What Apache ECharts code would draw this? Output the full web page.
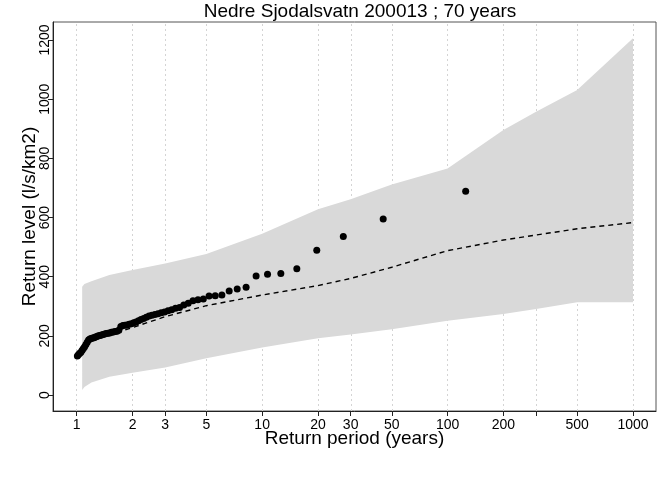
<!DOCTYPE html>
<html>
<head>
<meta charset="utf-8">
<script src="https://cdn.jsdelivr.net/npm/echarts@6/dist/echarts.min.js"></script>
<style>html,body{margin:0;padding:0;background:#fff}#chart{width:672px;height:480px}</style>
</head>
<body>
<div id="chart"></div>
<script>
// Observed return periods (years) and return levels (l/s/km2)
const periods = [125.2, 44.95, 27.39, 19.70, 15.38, 12.61, 10.69, 9.275, 8.192, 7.335,
  6.640, 6.066, 5.583, 5.171, 4.816, 4.506, 4.234, 3.993, 3.778, 3.585,
  3.410, 3.252, 3.108, 2.976, 2.855, 2.743, 2.640, 2.544, 2.455, 2.372,
  2.295, 2.222, 2.154, 2.089, 2.029, 1.972, 1.918, 1.867, 1.818, 1.773,
  1.729, 1.687, 1.648, 1.610, 1.574, 1.539, 1.506, 1.474, 1.444, 1.415,
  1.387, 1.360, 1.334, 1.309, 1.285, 1.262, 1.240, 1.218, 1.197, 1.177,
  1.158, 1.139, 1.121, 1.103, 1.086, 1.070, 1.053, 1.038, 1.023, 1.008];
const levels = [689, 595, 536, 489, 427, 411, 408, 402, 364, 358,
  352, 338, 336, 335, 325, 322, 319, 310, 304, 296,
  293, 288, 285, 281, 278, 275, 272, 270, 267, 263,
  259, 255, 251, 247, 244, 241, 239, 237, 236, 235,
  232, 219, 216, 215, 213, 212, 210, 209, 208, 206,
  205, 203, 201, 200, 198, 196, 194, 193, 191, 189,
  186, 178, 171, 163, 157, 151, 145, 141, 137, 132];

// Fitted return level curve
const fitPeriods = [1.1, 1.2, 1.5, 2, 3, 5, 10, 20, 30, 50, 100, 200, 500, 1000];
const fitLevels  = [165, 188, 205, 228, 265, 302, 338, 370, 394, 432, 488, 524, 562, 583];

// Confidence band
const bandPeriods = [1.07, 1.1, 1.2, 1.5, 2, 3, 5, 10, 20, 30, 50, 100, 200, 300, 500, 1000];
const bandUpper   = [366, 375, 385, 406, 423, 445, 477, 545, 628, 662, 712, 766, 896, 958, 1031, 1206];
const bandLower   = [17, 27, 42, 62, 75, 93, 124, 161, 192, 205, 222, 251, 274, 291, 314, 314];

// Axis ticks
const xTickValues  = [1, 2, 3, 5, 10, 20, 30, 50, 100, 200, 300, 500, 1000];
const xLabelValues = [1, 2, 3, 5, 10, 20, 30, 50, 100, 200, 500, 1000];
const yTickValues  = [0, 200, 400, 600, 800, 1000, 1200];

const lg = v => Math.log10(v);
const pts = periods.map((p, i) => [lg(p), levels[i]]);
const fit = fitPeriods.map((p, i) => [lg(p), fitLevels[i]]);
const band = bandPeriods.map((p, i) => [lg(p), bandLower[i], bandUpper[i]]);

const FONT = 'Liberation Sans';
const chart = echarts.init(document.getElementById('chart'), null, {renderer: 'canvas'});
chart.setOption({
  animation: false,
  backgroundColor: '#fff',
  title: {
    text: 'Nedre Sjodalsvatn 200013 ; 70 years',
    left: 355, top: -3, textAlign: 'center',
    textStyle: {fontFamily: FONT, fontSize: 19, fontWeight: 'normal', color: '#000'}
  },
  grid: {left: 53, right: 16, top: 22, bottom: 69, show: true, borderColor: '#555', borderWidth: 1, backgroundColor: 'transparent'},
  xAxis: {
    type: 'value', min: -0.128, max: 3.124,
    name: 'Return period (years)', nameLocation: 'middle', nameGap: 18, nameMoveOverlap: false,
    nameTextStyle: {fontFamily: FONT, fontSize: 19, color: '#000'},
    axisLine: {show: true, onZero: false, lineStyle: {color: '#222'}},
    axisTick: {show: true, length: 5, customValues: xTickValues.map(lg), lineStyle: {color: '#222'}},
    axisLabel: {customValues: xLabelValues.map(lg), margin: 7, fontFamily: FONT, fontSize: 14, color: '#000',
      formatter: v => String(Math.round(Math.pow(10, v)))},
    splitLine: {show: false}
  },
  yAxis: {
    type: 'value', min: -54, max: 1261,
    name: 'Return level (l/s/km2)', nameLocation: 'middle', nameGap: 14, nameMoveOverlap: false,
    nameTextStyle: {fontFamily: FONT, fontSize: 19, color: '#000'},
    axisLine: {show: true, onZero: false, lineStyle: {color: '#222'}},
    axisTick: {show: true, length: 5, customValues: yTickValues, lineStyle: {color: '#222'}},
    axisLabel: {customValues: yTickValues, rotate: 90, align: 'center', verticalAlign: 'bottom', margin: 1,
      fontFamily: FONT, fontSize: 14, color: '#000', formatter: v => String(v)},
    splitLine: {show: false}
  },
  series: [
    {
      type: 'line', data: [], z: 0, silent: true,
      markLine: {
        silent: true, symbol: 'none', label: {show: false}, animation: false, z: 0,
        lineStyle: {type: [2, 3], color: '#d4d4d4', width: 1},
        data: xTickValues.map(v => ({xAxis: lg(v)}))
      }
    },
    {
      type: 'custom', data: band, z: 2, silent: true,
      encode: {x: 0, y: [1, 2]},
      renderItem: function (params, api) {
        if (params.dataIndex !== 0) return null;
        const upper = [], lower = [];
        for (let i = 0; i < band.length; i++) {
          upper.push(api.coord([band[i][0], band[i][2]]));
          lower.push(api.coord([band[i][0], band[i][1]]));
        }
        return {
          type: 'polygon',
          shape: {points: upper.concat(lower.reverse())},
          style: {fill: '#d9d9d9', stroke: null}
        };
      }
    },
    {type: 'line', data: fit, symbol: 'none', z: 3, lineStyle: {color: '#000', width: 1.4, type: [5, 4]}},
    {type: 'scatter', data: pts, symbol: 'circle', symbolSize: 7, z: 4, itemStyle: {color: '#000', opacity: 1}}
  ]
});
</script>
</body>
</html>
